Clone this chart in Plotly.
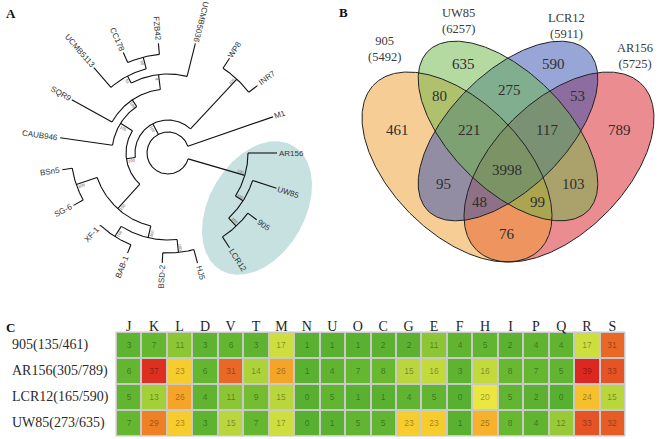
import numpy as np
import plotly.graph_objects as go

W, H = 660, 439

# ---------------- Panel A: phylogenetic tree ----------------
leaf_names = ["AR156", "UW85", "905", "LCR12", "HJ5", "BSD-2", "BAB-1", "XF-1", "SG-6", "BSn5",
              "CAUB946", "SQR9", "UCMB5113", "CC178", "FZB42", "UCMB5036", "WP8", "INR7", "M1"]
leaf_angle = [360, 342, 323, 303, 285, 267, 248, 227, 209, 189, 172, 151, 131, 114, 95, 76, 57, 37, 19]
leaf_radius = [109, 114, 111, 113, 114, 110, 108, 100, 108, 107, 109, 110, 113, 110, 110, 113, 113, 112, 111]

node_names = ["root", "N1", "WPINR", "N2", "U", "U1", "U2", "U2b", "U4", "L", "LA", "LB", "LB1", "LB2",
              "CL", "CL2", "CL3"]
node_radius = [21, 33, 101, 42, 56, 64, 79, 87, 99, 75, 97, 87, 99, 100, 80, 89, 100]
node_children = [["M1", "N1", "CL"], ["WPINR", "N2"], ["WP8", "INR7"], ["U", "L"], ["U1", "CAUB946"],
                 ["U2", "SQR9"], ["UCMB5036", "U2b"], ["UCMB5113", "U4"], ["FZB42", "CC178"],
                 ["LA", "LB"], ["BSn5", "SG-6"], ["LB1", "LB2"], ["XF-1", "BAB-1"], ["BSD-2", "HJ5"],
                 ["AR156", "CL2"], ["UW85", "CL3"], ["905", "LCR12"]]
node_support = ["", "100", "100", "100", "100", "100", "8", "51", "88", "100", "100", "100", "100", "100",
                "100", "100", "100"]
highlight_clade = ["AR156", "UW85", "905", "LCR12"]

# ---------------- Panel B: Venn diagram ----------------
set_names = ["905", "UW85", "LCR12", "AR156"]
set_sizes = [5492, 6257, 5911, 5725]
region_members = ["A", "B", "C", "D", "AB", "BC", "CD", "ABC", "BCD", "ABCD", "AC", "BD", "ACD", "ABD", "AD"]
region_counts = [461, 635, 590, 789, 80, 275, 53, 221, 117, 3998, 95, 103, 48, 99, 76]

# ---------------- Panel C: heatmap ----------------
cog_categories = ["J", "K", "L", "D", "V", "T", "M", "N", "U", "O", "C", "G", "E", "F", "H", "I", "P", "Q", "R", "S"]
strain_labels = ["905(135/461)", "AR156(305/789)", "LCR12(165/590)", "UW85(273/635)"]
counts_905 = [3, 7, 11, 3, 6, 3, 17, 1, 1, 1, 2, 2, 11, 4, 5, 2, 4, 4, 17, 31]
counts_AR156 = [6, 37, 23, 6, 31, 14, 26, 1, 4, 7, 8, 15, 16, 3, 16, 8, 7, 5, 39, 33]
counts_LCR12 = [5, 13, 26, 4, 11, 9, 15, 0, 5, 1, 1, 4, 5, 0, 20, 5, 2, 0, 24, 15]
counts_UW85 = [7, 29, 23, 3, 15, 7, 17, 0, 1, 5, 5, 23, 23, 1, 25, 8, 4, 12, 33, 32]

# ================= styles / layout parameters =================
TREE_C = (168.0, 153.0)
HILITE = (257.0, 208.0, 72.0, 48.0, -60.0)   # clade highlight ellipse (px space)
SANS = "Liberation Sans, Arial, sans-serif"
SERIF = "Liberation Serif, Times New Roman, serif"

fig = go.Figure()

# ---------- tree geometry ----------
ang = dict(zip(leaf_names, leaf_angle))
rad = dict(zip(leaf_names, leaf_radius))
nrad = dict(zip(node_names, node_radius))
kids = dict(zip(node_names, node_children))
support = dict(zip(node_names, node_support))


def node_angle(n):
    if n not in kids:
        return ang[n]
    a = [node_angle(c) for c in kids[n]]
    ang[n] = (min(a) + max(a)) / 2.0
    return ang[n]


node_angle("root")


def pol(r, th):
    t = np.deg2rad(th)
    return TREE_C[0] + r * np.cos(t), TREE_C[1] - r * np.sin(t)


def ell_param(cx, cy, a, b, rot, n=400):
    t = np.linspace(0, 2 * np.pi, n)
    r = np.deg2rad(rot)
    x = cx + a * np.cos(t) * np.cos(r) - b * np.sin(t) * np.sin(r)
    y = cy + a * np.cos(t) * np.sin(r) + b * np.sin(t) * np.cos(r)
    return x, y


# highlight ellipse behind the clade
ex, ey = ell_param(*HILITE)
fig.add_trace(go.Scatter(x=ex, y=ey, mode="lines", fill="toself", fillcolor="#c7e0e0",
                         line=dict(width=0), hoverinfo="skip", showlegend=False,
                         name=", ".join(highlight_clade)))

lx, ly = [], []
for n in node_names:
    r0 = nrad[n]
    ca = [ang[c] for c in kids[n]]
    th = np.linspace(min(ca), max(ca), max(2, int(abs(max(ca) - min(ca)) * 2)))
    ax_, ay_ = pol(r0, th)
    lx += list(ax_) + [None]
    ly += list(ay_) + [None]
    for c in kids[n]:
        r1 = nrad[c] if c in kids else rad[c]
        x0, y0 = pol(r0, ang[c])
        x1, y1 = pol(r1, ang[c])
        lx += [x0, x1, None]
        ly += [y0, y1, None]
fig.add_trace(go.Scatter(x=lx, y=ly, mode="lines", line=dict(color="#111111", width=1.1),
                         hoverinfo="skip", showlegend=False))


def text_w(s, size):
    w = 0.0
    for ch in s:
        if ch.isdigit():
            w += 0.556
        elif ch.isupper():
            w += 0.68
        elif ch == "-":
            w += 0.333
        else:
            w += 0.5
    return w * size


def rot_for(theta):
    t = theta % 360
    flip = 65 < t < 275
    ta = (180 - t) if flip else -t
    while ta > 180:
        ta -= 360
    while ta <= -180:
        ta += 360
    return ta


annotations = []
LEAF_FS = 8
for n in leaf_names:
    w = text_w(n, LEAF_FS)
    cx, cy = pol(rad[n] + 2.5 + w / 2.0, ang[n])
    annotations.append(dict(x=cx, y=cy, xref="x", yref="y", text=n, showarrow=False,
                            textangle=rot_for(ang[n]), xanchor="center", yanchor="middle",
                            font=dict(family=SANS, size=LEAF_FS, color="#333333")))

for n in node_names:
    s = support[n]
    if not s:
        continue
    th = ang[n]
    bx, by = pol(nrad[n] - 5, th)
    t = np.deg2rad(th + 90)
    bx += 2.5 * np.cos(t)
    by -= 2.5 * np.sin(t)
    annotations.append(dict(x=bx, y=by, xref="x", yref="y", text=s, showarrow=False,
                            textangle=rot_for(th), font=dict(family=SANS, size=4, color="#555555")))

# ---------- Venn ----------
ellipses = {  # cx, cy, a, b, rotation (pixel space)
    "A": (457.0, 167.0, 117.0, 66.0, 45.0),
    "B": (508.0, 131.0, 113.0, 58.0, 45.0),
    "C": (508.0, 131.0, 113.0, 58.0, 135.0),
    "D": (559.0, 167.0, 117.0, 66.0, 135.0),
}
venn_fill = {"A": "rgba(239,155,45,0.5)", "B": "rgba(105,182,70,0.5)",
             "C": "rgba(48,78,175,0.5)", "D": "rgba(215,25,35,0.5)"}
draw_order = ["D", "A", "C", "B"]
for k in draw_order:
    x, y = ell_param(*ellipses[k])
    fig.add_trace(go.Scatter(x=x, y=y, mode="lines", fill="toself", fillcolor=venn_fill[k],
                             line=dict(width=0), hoverinfo="skip", showlegend=False))
for k in "ABCD":
    x, y = ell_param(*ellipses[k])
    fig.add_trace(go.Scatter(x=x, y=y, mode="lines", line=dict(color="#222222", width=1),
                             hoverinfo="skip", showlegend=False))


def inside(px, py, e):
    cx, cy, a, b, rot = e
    r = np.deg2rad(rot)
    dx, dy = px - cx, py - cy
    u = dx * np.cos(r) + dy * np.sin(r)
    v = -dx * np.sin(r) + dy * np.cos(r)
    return (u / a) ** 2 + (v / b) ** 2 <= 1


gx, gy = np.meshgrid(np.arange(355, 662, 2.0), np.arange(30, 268, 2.0))
px, py = gx.ravel(), gy.ravel()
memb = {k: inside(px, py, ellipses[k]) for k in "ABCD"}
dist = np.full(px.shape, np.inf)
for k in "ABCD":
    bx, by = ell_param(*ellipses[k], n=360)
    d = np.sqrt((px[:, None] - bx[None, :]) ** 2 + (py[:, None] - by[None, :]) ** 2).min(axis=1)
    dist = np.minimum(dist, d)

for mem, cnt in zip(region_members, region_counts):
    mask = np.ones(px.shape, bool)
    for k in "ABCD":
        mask &= memb[k] if k in mem else ~memb[k]
    idx = np.where(mask)[0]
    best = idx[np.argmax(dist[idx])]
    annotations.append(dict(x=px[best], y=py[best], xref="x", yref="y", text=str(cnt), showarrow=False,
                            font=dict(family=SERIF, size=15, color="#2e2e2e")))

set_label_offset = {"A": (-23, -23), "B": (3, -20), "C": (6, -15), "D": (27, -16)}
for k, nm, sz in zip("ABCD", set_names, set_sizes):
    x, y = ell_param(*ellipses[k], n=720)
    i = np.argmin(y)
    ox, oy = set_label_offset[k]
    annotations.append(dict(x=x[i] + ox, y=y[i] + oy, xref="x", yref="y",
                            text=f"{nm}<br>({sz})", showarrow=False,
                            font=dict(family=SERIF, size=12.5, color="#3a3a3a")))

# ---------- heatmap ----------
zmat = [counts_905, counts_AR156, counts_LCR12, counts_UW85]
stops = [(0, "rgb(88,176,48)"), (8, "rgb(104,184,48)"), (11, "rgb(140,198,52)"), (15, "rgb(185,215,60)"),
         (20, "rgb(234,232,64)"), (23, "rgb(246,205,45)"), (26, "rgb(244,165,40)"), (29, "rgb(238,128,38)"),
         (32, "rgb(232,92,38)"), (37, "rgb(222,48,32)"), (39, "rgb(220,40,32)")]
colorscale = [[v / 39.0, c] for v, c in stops]
fig.add_trace(go.Heatmap(z=zmat, x=cog_categories, y=strain_labels, xaxis="x2", yaxis="y2",
                         colorscale=colorscale, zmin=0, zmax=39, showscale=False, xgap=2, ygap=2,
                         texttemplate="%{z}", textfont=dict(family=SANS, size=8.5, color="rgba(0,0,0,0.38)"),
                         hoverinfo="skip"))

for s in strain_labels:
    annotations.append(dict(x=10 / W, y=s, xref="paper", yref="y2", text=s, showarrow=False,
                            xanchor="left", yanchor="middle",
                            font=dict(family=SERIF, size=14, color="#2a2a2a")))

# panel letters
for t, x, y in [("A", 11, 14), ("B", 343, 13), ("C", 10, 327)]:
    annotations.append(dict(x=x / W, y=1 - y / H, xref="paper", yref="paper", text=f"<b>{t}</b>",
                            showarrow=False, xanchor="center", yanchor="middle",
                            font=dict(family=SERIF, size=13, color="#111111")))

shapes = [dict(type="rect", xref="x2 domain", yref="y2 domain", x0=0, x1=1, y0=0, y1=1,
               fillcolor="#c9c9c9", line=dict(color="#c9c9c9", width=1), layer="below")]

fig.update_layout(
    width=W, height=H, margin=dict(l=0, r=0, t=0, b=0),
    paper_bgcolor="white", plot_bgcolor="rgba(0,0,0,0)",
    xaxis=dict(domain=[0, 1], range=[0, W], visible=False, fixedrange=True),
    yaxis=dict(domain=[0, 1], range=[H, 0], visible=False, fixedrange=True),
    xaxis2=dict(domain=[116 / W, 625 / W], anchor="y2", side="top", showgrid=False, zeroline=False,
                ticks="", showline=False, ticklabelstandoff=-3,
                tickfont=dict(family=SERIF, size=14, color="#1e1e1e"), fixedrange=True),
    yaxis2=dict(domain=[3 / H, 107 / H], anchor="x2", autorange="reversed", showgrid=False,
                zeroline=False, showticklabels=False, ticks="", fixedrange=True),
    annotations=annotations, shapes=shapes, showlegend=False,
)

fig.write_html("out.html", config={"displayModeBar": False},
               post_script="document.body.style.margin='0';")
